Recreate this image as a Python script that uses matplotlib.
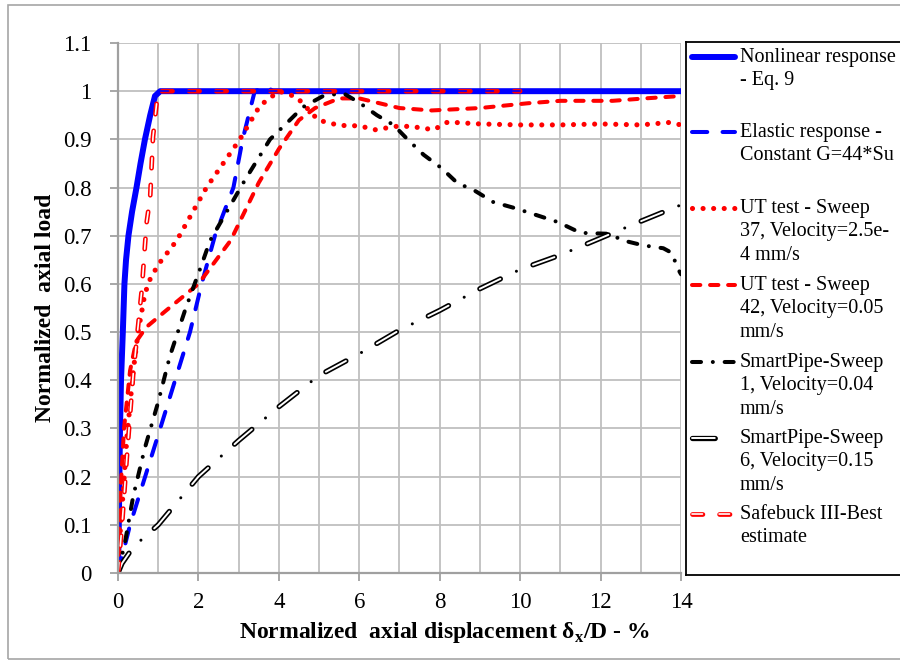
import matplotlib
matplotlib.use('Agg')
import matplotlib.pyplot as plt
from matplotlib.patches import Rectangle
from matplotlib.lines import Line2D

plt.rcParams['font.family'] = ['Liberation Serif', 'DejaVu Serif']
plt.rcParams['mathtext.fontset'] = 'custom'
plt.rcParams['mathtext.rm'] = 'Liberation Serif'
plt.rcParams['mathtext.bf'] = 'Liberation Serif:bold'
plt.rcParams['lines.scale_dashes'] = False

# Nonlinear response - Eq. 9
nl_x = [0, 0.02, 0.035, 0.05, 0.075, 0.12, 0.16, 0.2, 0.26, 0.35, 0.46, 0.56, 0.67, 0.8, 0.92, 1.05, 14]
nl_y = [0, 0.1, 0.2, 0.3, 0.4, 0.5, 0.6, 0.65, 0.7, 0.75, 0.8, 0.85, 0.9, 0.95, 0.99, 1.0, 1.0]

# Elastic response - constant G
el_x = [0, 0.3, 1.05, 1.79, 2.08, 2.41, 2.87, 3.1, 3.4, 3.7, 3.85, 14]
el_y = [0, 0.1, 0.3, 0.5, 0.6, 0.7, 0.8, 0.9, 1.0, 1.01, 1.0, 1.0]

# UT test - Sweep 37
ut37_x = [0, 0.05, 0.13, 0.22, 0.3, 0.38, 0.5, 0.67, 0.8, 1.0, 1.46, 2.2, 3.03, 3.53, 4.0,
          4.44, 4.98, 5.5, 6.0, 6.4, 7.0, 7.35, 7.85, 8.2, 9.0, 10.0, 11.0, 12.0, 13.0, 13.7, 14.0]
ut37_y = [0, 0.08, 0.17, 0.28, 0.35, 0.42, 0.5, 0.58, 0.61, 0.64, 0.69, 0.8, 0.9, 0.97, 1.0,
          0.988, 0.94, 0.929, 0.928, 0.92, 0.928, 0.926, 0.92, 0.936, 0.932, 0.93, 0.93, 0.932, 0.93, 0.935, 0.93]

# UT test - Sweep 42
ut42_x = [0, 0.05, 0.15, 0.3, 0.45, 0.7, 1.2, 2.0, 2.8, 3.5, 4.0, 4.5, 4.9, 5.5, 6.0, 6.5,
          7.0, 7.8, 9.0, 10.2, 11.0, 12.3, 13.1, 14.0]
ut42_y = [0, 0.15, 0.3, 0.42, 0.48, 0.51, 0.545, 0.6, 0.69, 0.81, 0.88, 0.94, 0.965, 0.985, 0.985, 0.975,
          0.965, 0.96, 0.965, 0.975, 0.98, 0.98, 0.985, 0.99]

# SmartPipe - Sweep 1
sp1_x = [0, 0.17, 0.38, 0.67, 1.0, 1.29, 1.67, 2.08, 2.29, 3.16, 3.78, 4.2, 4.6, 5.1, 5.6, 6.02,
         6.44, 6.85, 7.2, 7.6, 8.05, 8.43, 8.88, 9.33, 9.88, 10.4, 10.95, 11.5, 12.2, 12.57, 13.06,
         13.56, 13.78, 13.9, 14.0]
sp1_y = [0, 0.062, 0.16, 0.26, 0.355, 0.45, 0.546, 0.64, 0.69, 0.816, 0.9, 0.934, 0.967, 0.99, 0.996, 0.975,
         0.95, 0.93, 0.9, 0.868, 0.84, 0.81, 0.793, 0.77, 0.757, 0.743, 0.728, 0.706, 0.704, 0.69, 0.68,
         0.674, 0.664, 0.635, 0.62]

# SmartPipe - Sweep 6
sp6_x = [0, 0.1, 0.38, 1.0, 2.0, 3.0, 4.0, 5.0, 6.0, 7.0, 8.0, 9.0, 10.0, 11.0, 12.0, 13.0, 14.0]
sp6_y = [0, 0.02, 0.054, 0.1, 0.2, 0.275, 0.345, 0.41, 0.455, 0.504, 0.545, 0.59, 0.63, 0.66, 0.695, 0.73, 0.764]

# Safebuck III - best estimate
sb_x = [0, 0.1, 0.22, 0.38, 0.46, 0.59, 0.71, 0.8, 0.87, 0.96, 1.0, 10.0]
sb_y = [0, 0.1, 0.24, 0.415, 0.48, 0.587, 0.726, 0.78, 0.905, 0.975, 1.0, 1.0]
sb_knee = 10  # index where the curve reaches the plateau

labels = ['Nonlinear response\n- Eq. 9',
          'Elastic response -\nConstant G=44*Su',
          'UT test - Sweep\n37, Velocity=2.5e-\n4 mm/s',
          'UT test - Sweep\n42, Velocity=0.05\nmm/s',
          'SmartPipe-Sweep\n1, Velocity=0.04\nmm/s',
          'SmartPipe-Sweep\n6, Velocity=0.15\nmm/s',
          'Safebuck III-Best\nestimate']

BLUE = '#0000FF'
RED = '#FF0000'

# line styles (dashes in points)
st_nl = dict(color=BLUE, lw=4.3, solid_capstyle='round', solid_joinstyle='round')
st_el = dict(color=BLUE, lw=2.9, ls=(0, (11, 11)), dash_capstyle='round')
st_37 = dict(color=RED, lw=3.7, ls=(0, (0.01, 7.6)), dash_capstyle='round')
st_42 = dict(color=RED, lw=2.9, ls=(0, (6, 7)), dash_capstyle='round')
st_sp1 = dict(color='black', lw=2.9, ls=(0, (6.5, 8.5, 0.01, 8.5)), dash_capstyle='round')
st_sp6a = dict(color='black', lw=3.8, ls=(0, (16.4, 25.6)), dash_capstyle='round')
st_sp6b = dict(color='white', lw=1.4, ls=(0, (16.4, 25.6)), dash_capstyle='round')
st_sp6c = dict(color='black', lw=2.2, ls=(12.8, (0.01, 41.99)), dash_capstyle='round')
st_sba = dict(color=RED, lw=3.4, ls=(0, (7.5, 12)), dash_capstyle='round')
st_sbb = dict(color='white', lw=1.2, ls=(0, (7.5, 12)), dash_capstyle='round')

fig = plt.figure(figsize=(9, 6.6), dpi=100)
fig.patches.append(Rectangle((8 / 900, 1 / 660), 0.995, 1 - 6 / 660, transform=fig.transFigure,
                             fill=False, edgecolor='#A6A6A6', lw=1.2))

ax = fig.add_axes([118 / 900, 87 / 660, 563 / 900, 530 / 660])
ax.plot(nl_x, nl_y, **st_nl)
ax.plot(el_x, el_y, **st_el)
ax.plot(ut37_x, ut37_y, **st_37)
ax.plot(ut42_x, ut42_y, **st_42)
ax.plot(sp1_x, sp1_y, **st_sp1)
ax.plot(sp6_x, sp6_y, **st_sp6a)
ax.plot(sp6_x, sp6_y, **st_sp6b)
ax.plot(sp6_x, sp6_y, **st_sp6c)
ax.plot(sb_x, sb_y, **st_sba)
ax.plot(sb_x[:sb_knee + 1], sb_y[:sb_knee + 1], **st_sbb)
# plateau part sits on the blue line, so its hollow shows blue
ax.plot(sb_x[sb_knee:], sb_y[sb_knee:], **dict(st_sbb, color=BLUE))

ax.set_xlim(0, 14)
ax.set_ylim(0, 1.1)
ax.set_xticks(range(0, 15, 2))
ax.set_xticks(range(0, 15), minor=True)
ax.set_yticks([i / 10 for i in range(12)])
ax.set_yticklabels(['0', '0.1', '0.2', '0.3', '0.4', '0.5', '0.6', '0.7', '0.8', '0.9', '1', '1.1'])
ax.grid(True, which='both', color='#BFBFBF', lw=1.3)
ax.set_axisbelow(True)
ax.tick_params(which='major', direction='out', length=6, width=1.3, color='#A0A0A0',
               labelsize=16.5)
ax.tick_params(axis='y', pad=13)
ax.tick_params(axis='x', pad=8)
ax.tick_params(which='minor', length=0)
for s in ['left', 'bottom']:
    ax.spines[s].set_color('#A0A0A0')
    ax.spines[s].set_linewidth(1.6)
for s in ['top', 'right']:
    ax.spines[s].set_visible(False)

ax.set_xlabel('Normalized  axial displacement δ$_\\mathbf{x}$/D - %', fontsize=17,
              fontweight='bold')
ax.xaxis.set_label_coords((444 - 118) / 563, -(620 - 573) / 530)
ax.set_ylabel('Normalized  axial load', fontsize=17, fontweight='bold', labelpad=5)

# legend box drawn in pixel units
lg = fig.add_axes([686 / 900, 85 / 660, 214 / 900, 533 / 660])
lg.set_xlim(0, 214)
lg.set_ylim(533, 0)
lg.set_xticks([])
lg.set_yticks([])
for s in lg.spines.values():
    s.set_color('black')
    s.set_linewidth(1.3)
lg.spines['right'].set_visible(False)

row_y = [15, 90, 166, 243, 320, 396, 472]
samples = [[st_nl], [st_el], [st_37], [st_42], [st_sp1],
           [st_sp6a, st_sp6b], [st_sba, st_sbb]]
for yy, lab, sty in zip(row_y, labels, samples):
    for s in sty:
        lg.add_line(Line2D([6, 49], [yy, yy], **s))
    lg.text(54, yy - 9, lab, fontsize=14.5, va='top', ha='left', linespacing=1.32)

fig.savefig('out.png', dpi=100)
